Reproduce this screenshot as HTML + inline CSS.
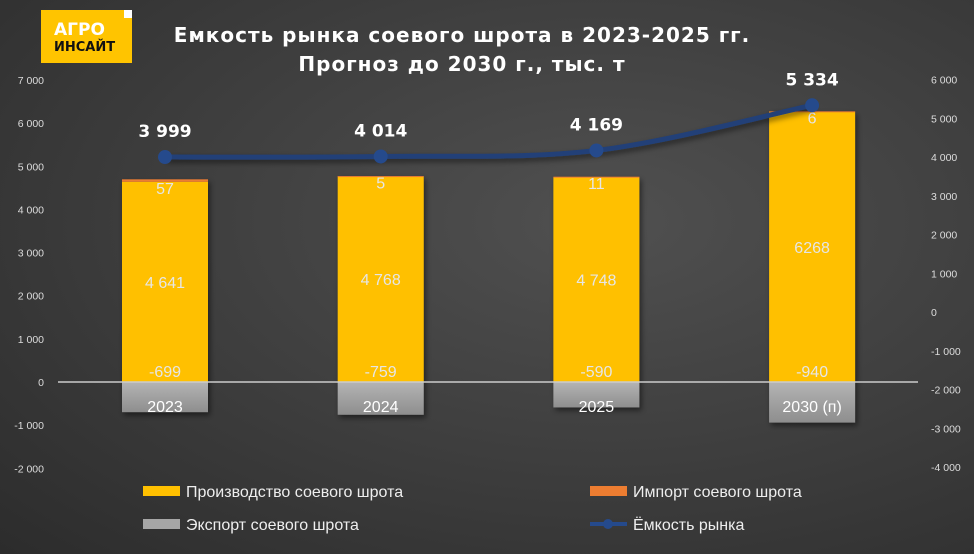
<!DOCTYPE html>
<html><head><meta charset="utf-8"><style>
html,body{margin:0;padding:0}
body{width:974px;height:554px;overflow:hidden;background:radial-gradient(ellipse at 62% 40%,#505050 0%,#404040 45%,#2c2c2c 100%);font-family:"Liberation Sans","DejaVu Sans",sans-serif}
svg{position:absolute;left:0;top:0}
</style></head><body>
<svg id="c" width="974" height="554">
<defs>
<linearGradient id="gex" x1="0" y1="0" x2="0" y2="1"><stop offset="0" stop-color="#b4b4b4"/><stop offset="1" stop-color="#8e8e8e"/></linearGradient>
<filter id="sh" x="-20%" y="-20%" width="140%" height="140%"><feDropShadow dx="2" dy="3" stdDeviation="3" flood-color="#000" flood-opacity="0.5"/></filter>
</defs>
<g>
<rect x="41" y="10" width="91" height="53" fill="#ffc400"/>
<rect x="124" y="10" width="8" height="8" fill="#fff"/>
<text x="54" y="35" font-size="17" font-weight="bold" fill="#fff" font-family="DejaVu Sans, sans-serif">АГРО</text>
<text x="54" y="51" font-size="13" font-weight="bold" fill="#111" font-family="DejaVu Sans, sans-serif">ИНСАЙТ</text>
</g>
<text x="462" y="42" text-anchor="middle" font-size="20" font-weight="bold" fill="#fff" letter-spacing="1" font-family="DejaVu Sans, sans-serif">Емкость рынка соевого шрота в 2023-2025 гг.</text>
<text x="462" y="71" text-anchor="middle" font-size="20" font-weight="bold" fill="#fff" letter-spacing="1" font-family="DejaVu Sans, sans-serif">Прогноз до 2030 г., тыс. т</text>
<g id="axes"></g><g id="bars"></g><g id="line"></g><g id="legend"></g>
</svg>
<script>
const categories=["2023","2024","2025","2030 (п)"];
const production=[4641,4768,4748,6268];
const productionLabels=["4 641","4 768","4 748","6268"];
const importVals=[57,5,11,6];
const exportVals=[-699,-759,-590,-940];
const capacity=[3999,4014,4169,5334];
const capacityLabels=["3 999","4 014","4 169","5 334"];
const leftTicks=[7000,6000,5000,4000,3000,2000,1000,0,-1000,-2000];
const rightTicks=[6000,5000,4000,3000,2000,1000,0,-1000,-2000,-3000,-4000];
const NS="http://www.w3.org/2000/svg";
const yL=v=>382-v*0.04314;
const yR=v=>312-v*0.03875;
const xC=i=>165+i*215.7;
const fmt=v=>{const s=Math.abs(v).toString().replace(/\B(?=(\d{3})+(?!\d))/g," ");return (v<0?"-":"")+s;};
function el(t,a,p,txt){const e=document.createElementNS(NS,t);for(const k in a)e.setAttribute(k,a[k]);if(txt!==undefined)e.textContent=txt;p.appendChild(e);return e;}
const ax=document.getElementById('axes');
leftTicks.forEach(v=>{const t=el('text',{x:44,y:yL(v)+4,'text-anchor':'end','font-size':10.5,fill:'#ddd'},ax,fmt(v));

});
rightTicks.forEach(v=>{const t=el('text',{x:931,y:yR(v)+4,'font-size':10.5,fill:'#ddd'},ax,fmt(v));

});
const bg=document.getElementById('bars');
const W=86;
categories.forEach((c,i)=>{
 const x=xC(i)-W/2;
 const g=el('g',{filter:'url(#sh)'},bg);
 const ex=el('rect',{x:x,y:yL(0),width:W,height:yL(exportVals[i])-yL(0),fill:'url(#gex)'},g);
 
 
 const pr=el('rect',{x:x,y:yL(production[i]),width:W,height:yL(0)-yL(production[i]),fill:'#ffc000'},g);
 
 
 const im=el('rect',{x:x,y:yL(production[i]+importVals[i]),width:W,height:Math.max(1,yL(production[i])-yL(production[i]+importVals[i])),fill:'#ed7d31'},g);
 
 
});
const zl=el('line',{x1:58,x2:918,y1:yL(0),y2:yL(0),stroke:'#ccc','stroke-width':1.5},bg);


categories.forEach((c,i)=>{
 const cx=xC(i);
 const l1=el('text',{x:cx,y:(yL(0)+yL(production[i]))/2+6,'text-anchor':'middle','font-size':16,fill:'#e6e6e6'},bg,productionLabels[i]);
 
 
 const l2=el('text',{x:cx,y:yL(production[i])+12,'text-anchor':'middle','font-size':16,fill:'#e6e6e6'},bg,fmt(importVals[i]));
 
 
 const l3=el('text',{x:cx,y:yL(0)-5,'text-anchor':'middle','font-size':16,fill:'#e6e6e6'},bg,fmt(exportVals[i]));
 
 
 const l4=el('text',{x:cx,y:yL(0)+30,'text-anchor':'middle','font-size':16,fill:'#fff'},bg,c);
 
 
});
const lg=document.getElementById('line');
const pts=capacity.map((v,i)=>[xC(i),yR(v)]);
let d='M'+pts[0][0]+','+pts[0][1];
for(let i=0;i<pts.length-1;i++){
 const p0=pts[Math.max(0,i-1)],p1=pts[i],p2=pts[i+1],p3=pts[Math.min(pts.length-1,i+2)];
 const t=0.5/3;
 d+=' C'+(p1[0]+(p2[0]-p0[0])*t)+','+(p1[1]+(p2[1]-p0[1])*t)+' '+(p2[0]-(p3[0]-p1[0])*t)+','+(p2[1]-(p3[1]-p1[1])*t)+' '+p2[0]+','+p2[1];
}
const path=el('path',{d:d,fill:'none',stroke:'#203f78','stroke-width':5,filter:'url(#sh)'},lg);


pts.forEach((p,i)=>{
 const m=el('circle',{cx:p[0],cy:p[1],r:7,fill:'#254a8c'},lg);
 
 
 const t=el('text',{x:p[0],y:p[1]-20,'text-anchor':'middle','font-size':17,'font-weight':'bold',fill:'#fff','font-family':'DejaVu Sans, sans-serif'},lg,capacityLabels[i]);
 
 
});
const L=document.getElementById('legend');
const items=[["Производство соевого шрота","#ffc000",143,491,'rect'],["Импорт соевого шрота","#ed7d31",590,491,'rect'],["Экспорт соевого шрота","#a6a6a6",143,524,'rect'],["Ёмкость рынка","#254a8c",590,524,'line']];
items.forEach(it=>{
 const g=el('g',{},L);
 
 
 if(it[4]==='rect') el('rect',{x:it[2],y:it[3]-5,width:37,height:10,fill:it[1]},g);
 else {el('line',{x1:it[2],x2:it[2]+37,y1:it[3],y2:it[3],stroke:it[1],'stroke-width':4},g);el('circle',{cx:it[2]+18,cy:it[3],r:5,fill:it[1]},g);}
 el('text',{x:it[2]+43,y:it[3]+6,'font-size':16,fill:'#eee'},g,it[0]);
});
</script>
</body></html>
